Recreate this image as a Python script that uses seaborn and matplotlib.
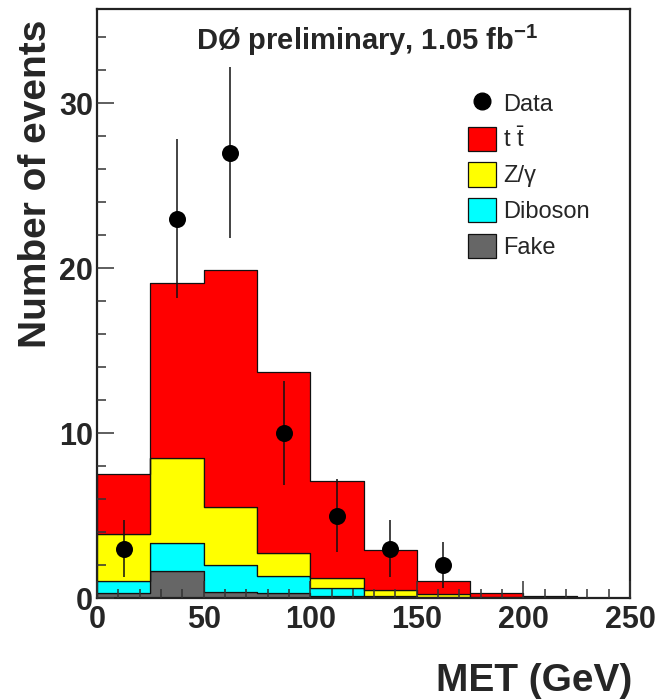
import numpy as np
import pandas as pd
import matplotlib
matplotlib.use("Agg")
import matplotlib.pyplot as plt
from matplotlib.lines import Line2D
from matplotlib.patches import Patch
from matplotlib.ticker import MultipleLocator
import seaborn as sns

# MET bins (GeV)
bin_edges = [0, 25, 50, 75, 100, 125, 150, 175, 200, 225, 250]
bin_centers = [12.5, 37.5, 62.5, 87.5, 112.5, 137.5, 162.5, 187.5, 212.5, 237.5]

# Expected events per bin for each process
ttbar   = [3.64, 10.61, 14.35, 10.95, 5.86, 2.43, 0.83, 0.27, 0.12, 0.03]
zgamma  = [2.85, 5.16, 3.51, 1.40, 0.64, 0.34, 0.16, 0.03, 0.01, 0.00]
diboson = [0.71, 1.67, 1.64, 1.05, 0.49, 0.12, 0.06, 0.02, 0.01, 0.00]
fake    = [0.32, 1.65, 0.38, 0.30, 0.10, 0.02, 0.00, 0.00, 0.00, 0.00]

# Observed events
data_counts = [3, 23, 27, 10, 5, 3, 2, 0, 0, 0]

process_names = ["ttbar", "Z/gamma", "Diboson", "Fake"]
process_labels = [r"$\mathrm{t}\ \bar{\mathrm{t}}$", "Z/\u03b3", "Diboson", "Fake"]
process_colors = ["#ff0000", "#ffff00", "#00ffff", "#666666"]

sns.set_style("ticks")
plt.rcParams["font.family"] = ["Liberation Sans", "DejaVu Sans"]
plt.rcParams["mathtext.fontset"] = "custom"
plt.rcParams["mathtext.rm"] = "Liberation Sans"
plt.rcParams["mathtext.it"] = "Liberation Sans:italic"
plt.rcParams["mathtext.bf"] = "Liberation Sans:bold"

fig = plt.figure(figsize=(6.58, 6.99), dpi=100)
ax = fig.add_axes([97 / 658, 1 - 598 / 699, 533 / 658, 589 / 699])

df = pd.DataFrame({
    "met": np.tile(bin_centers, 4),
    "events": np.concatenate([ttbar, zgamma, diboson, fake]),
    "process": np.repeat(process_names, len(bin_centers)),
})

sns.histplot(
    data=df, x="met", weights="events", hue="process",
    hue_order=process_names, palette=process_colors,
    multiple="stack", element="step", bins=bin_edges,
    alpha=1, edgecolor="#111111", linewidth=0.9,
    legend=False, ax=ax,
)

# Data points with Poisson errors
obs = pd.DataFrame({"met": bin_centers, "n": data_counts})
obs = obs[obs["n"] > 0]
ax.errorbar(obs["met"], obs["n"], yerr=np.sqrt(obs["n"]), fmt="none",
            ecolor="#111111", elinewidth=1.1, capsize=0, zorder=5)
sns.scatterplot(data=obs, x="met", y="n", color="black", s=150,
                edgecolor="black", linewidth=0, zorder=6, ax=ax)

ax.set_xlim(0, 250)
ax.set_ylim(0, 35.7)
ax.set_xlabel("")
ax.set_ylabel("")
ax.set_axisbelow(False)

ax.xaxis.set_major_locator(MultipleLocator(50))
ax.xaxis.set_minor_locator(MultipleLocator(10))
ax.yaxis.set_major_locator(MultipleLocator(10))
ax.yaxis.set_minor_locator(MultipleLocator(2))
ax.tick_params(which="both", direction="in", color="#333333", width=1.1,
               top=False, right=False)
ax.tick_params(which="major", length=12, labelsize=22)
ax.tick_params(which="minor", length=6.5)
ax.tick_params(axis="y", which="major", pad=3)
ax.tick_params(axis="x", which="major", pad=5)
for lab in ax.get_xticklabels() + ax.get_yticklabels():
    lab.set_fontweight("bold")

for sp in ax.spines.values():
    sp.set_visible(True)
    sp.set_linewidth(1.6)
    sp.set_color("#222222")

fig.text(36 / 658, 1 - 184 / 699, "Number of events", rotation=90,
         ha="center", va="center", fontsize=28, fontweight="bold")
fig.text(632 / 658, 1 - 691 / 699, "MET (GeV)", ha="right", va="baseline",
         fontsize=28, fontweight="bold")

ax.text(0.507, 0.93, r"DØ preliminary, 1.05 fb$^{\mathbf{-1}}$",
        transform=ax.transAxes, ha="center", va="baseline",
        fontsize=21, fontweight="bold")

handles = [Line2D([], [], marker="o", linestyle="none", color="black",
                  markersize=12)]
handles += [Patch(facecolor=c, edgecolor="#111111", linewidth=0.9)
            for c in process_colors]
labels = ["Data"] + process_labels
ax.legend(handles, labels, loc="upper left",
          bbox_to_anchor=((468 - 97) / 533, (598 - 91) / 589),
          frameon=False, fontsize=17, borderpad=0, borderaxespad=0,
          handlelength=1.2, handleheight=1.2, handletextpad=0.3,
          labelspacing=0.45)

fig.savefig("out.png", dpi=100)
